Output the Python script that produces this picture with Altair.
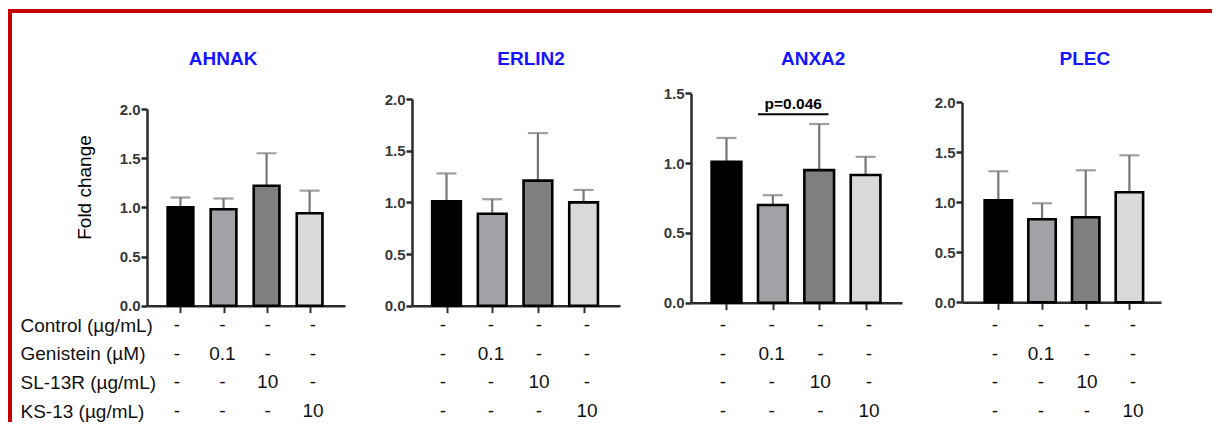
import json
import altair as alt
import pandas as pd

FONT = "Liberation Sans"

# ---------------- data ----------------
groups = ["Control", "Genistein", "SL-13R", "KS-13"]
bar_colors = ["#000000", "#a1a1a6", "#7f7f7f", "#d9d9d9"]

genes = ["AHNAK", "ERLIN2", "ANXA2", "PLEC"]

ahnak_mean = [1.00, 0.98, 1.22, 0.94]
ahnak_sd = [0.10, 0.11, 0.33, 0.23]

erlin2_mean = [1.01, 0.89, 1.21, 1.00]
erlin2_sd = [0.27, 0.14, 0.46, 0.12]

anxa2_mean = [1.01, 0.70, 0.95, 0.915]
anxa2_sd = [0.17, 0.07, 0.33, 0.13]

plec_mean = [1.02, 0.83, 0.85, 1.10]
plec_sd = [0.29, 0.16, 0.47, 0.37]

y_max = [2.0, 2.0, 1.5, 2.0]
y_ticks = [
    [0.0, 0.5, 1.0, 1.5, 2.0],
    [0.0, 0.5, 1.0, 1.5, 2.0],
    [0.0, 0.5, 1.0, 1.5],
    [0.0, 0.5, 1.0, 1.5, 2.0],
]

row_labels = ["Control (µg/mL)", "Genistein (µM)", "SL-13R (µg/mL)", "KS-13 (µg/mL)"]
table_cells = [
    ["-", "-", "-", "-"],
    ["-", "0.1", "-", "-"],
    ["-", "-", "10", "-"],
    ["-", "-", "-", "10"],
]

p_label = "p=0.046"
p_value_y = 1.35

y_title = "Fold change"

# ---------------- layout (pixels / positions, kept apart from data) ----------------
W, H = 1204, 414
PAGE = 8  # page margin; view origin in page pixels
# (axis start, axis end, first bar centre, bar step) in page pixels
x_layout = [(147, 345, 177, 45.33), (412, 620, 443, 48.0), (691, 902, 723, 48.67),
            (962, 1161, 995, 46.0)]
bar_size = [25.7, 28.7, 29.7, 27.4]
y_ranges = [[297.7, 101], [297.7, 91], [294.7, 85.3], [294.3, 94.3]]
title_pos = [0.99, 1.85, 1.87, 1.98]        # in bar-slot units
p_span = (0.68, 2.2, 1.44)                   # rule start, rule end, text centre (slot units)
table_range = [317, 403]

means = [ahnak_mean, erlin2_mean, anxa2_mean, plec_mean]
sds = [ahnak_sd, erlin2_sd, anxa2_sd, plec_sd]

AX = "#2a2a2a"


def x_scale(k):
    a, e, c0, step = x_layout[k]
    return alt.Scale(domain=[(a - c0) / step, (e - c0) / step],
                     range=[a - PAGE, e - PAGE], nice=False, zero=False)


def panel(k):
    mean, sd = means[k], sds[k]
    df = pd.DataFrame({
        "slot": list(range(len(groups))),
        "group": groups,
        "mean": mean,
        "top": [m + s for m, s in zip(mean, sd)],
        "color": bar_colors,
    })
    xs = x_scale(k)
    ys = alt.Scale(domain=[0, y_max[k]], range=y_ranges[k], nice=False, zero=True)

    x_axis = alt.Axis(orient="bottom", offset=y_ranges[k][0] - H, labels=False, title=None,
                      values=list(range(len(groups))), grid=False, domainColor=AX,
                      domainWidth=2.5, tickColor="#333333", tickWidth=2, tickSize=7)
    yaxis_kw = dict(orient="left", offset=-(x_layout[k][0] - PAGE), values=y_ticks[k],
                    format=".1f", grid=False, domainColor=AX, domainWidth=2.5, tickColor=AX,
                    tickWidth=2.5, tickSize=6, labelPadding=1, labelFont=FONT,
                    labelFontSize=15, labelFontWeight="bold", labelColor="#383838")
    if k == 0:
        y_axis = alt.Axis(title=y_title, titleFont=FONT, titleFontSize=19,
                          titleFontWeight="normal", titleColor="#000000", titleX=-63,
                          titleY=179, titleAngle=270, titleBaseline="middle", **yaxis_kw)
    else:
        y_axis = alt.Axis(title=None, **yaxis_kw)

    X = alt.X("slot:Q", scale=xs, axis=x_axis)
    base = alt.Chart(df).encode(x=X)
    err = base.mark_rule(color="#767676", strokeWidth=2.2).encode(
        y=alt.Y("mean:Q", scale=ys, axis=y_axis), y2="top:Q")
    cap = base.mark_tick(color="#767676", thickness=2.2, size=20, orient="horizontal").encode(
        y=alt.Y("top:Q", scale=ys, axis=y_axis))
    bars = base.mark_bar(stroke="#000000", strokeWidth=2.6, orient="vertical",
                         size=bar_size[k]).encode(
        y=alt.Y("mean:Q", scale=ys, axis=y_axis),
        fill=alt.Fill("color:N", scale=None))

    tdf = pd.DataFrame({"tx": [title_pos[k]], "gene": [genes[k]]})
    title = alt.Chart(tdf).mark_text(font=FONT, fontSize=19, fontWeight="bold",
                                     color="#1515ff").encode(
        x=alt.X("tx:Q", scale=xs, axis=x_axis),
        y=alt.value(51), text="gene:N")

    layers = [err, cap, bars, title]
    if k == 2:
        pdf = pd.DataFrame({"x1": [p_span[0]], "x2": [p_span[1]], "xt": [p_span[2]],
                            "y": [p_value_y], "label": [p_label]})
        rule = alt.Chart(pdf).mark_rule(color="#000000", strokeWidth=2).encode(
            x=alt.X("x1:Q", scale=xs, axis=x_axis), x2="x2:Q",
            y=alt.Y("y:Q", scale=ys, axis=y_axis))
        ptxt = alt.Chart(pdf).mark_text(font=FONT, fontSize=15.5, fontWeight="bold",
                                        color="#000000", baseline="alphabetic",
                                        dy=-5).encode(
            x=alt.X("xt:Q", scale=xs, axis=x_axis),
            y=alt.Y("y:Q", scale=ys, axis=y_axis),
            text="label:N")
        layers += [rule, ptxt]
    return alt.layer(*layers)


def table(k):
    rows = []
    for r, cells in enumerate(table_cells):
        for s, c in enumerate(cells):
            rows.append({"slot": s, "row": r, "cell": c})
    tdf = pd.DataFrame(rows)
    xs = x_scale(k)
    ys = alt.Scale(domain=[0, 3], range=table_range, nice=False, zero=False)
    if k == 0:
        expr = json.dumps(row_labels, ensure_ascii=False) + "[datum.value]"
        y_axis = alt.Axis(orient="left", offset=-12, values=[0, 1, 2, 3], labelExpr=expr,
                          domain=False, ticks=False, tickSize=0, labelPadding=0,
                          labelAlign="left", labelBaseline="middle", labelFont=FONT,
                          labelFontSize=19, labelColor="#111111", labelOverlap=False,
                          labelFlush=False, title=None, grid=False)
        Y = alt.Y("row:Q", scale=ys, axis=y_axis)
    else:
        Y = alt.Y("row:Q", scale=ys, axis=None)
    return alt.Chart(tdf).mark_text(font=FONT, fontSize=19, color="#111111").encode(
        x=alt.X("slot:Q", scale=xs, axis=None),
        y=Y, text="cell:N")


frame_df = pd.DataFrame({"f": [0]})
frame_left = alt.Chart(frame_df).mark_rule(color="#c40000", strokeWidth=4).encode(
    x=alt.value(2), y=alt.value(1), y2=alt.value(H))
frame_top = alt.Chart(frame_df).mark_rule(color="#c40000", strokeWidth=4).encode(
    y=alt.value(3), x=alt.value(0), x2=alt.value(W + 20))

chart = alt.layer(
    frame_left, frame_top,
    *[panel(k) for k in range(4)],
    *[table(k) for k in range(4)],
).resolve_scale(x="independent", y="independent").resolve_axis(
    x="independent", y="independent"
).properties(
    width=W, height=H, autosize=alt.AutoSizeParams(type="none"), padding=0,
    background="#ffffff"
).configure_view(strokeWidth=0)

chart.save("out.html", embed_options={"renderer": "svg", "actions": False})
